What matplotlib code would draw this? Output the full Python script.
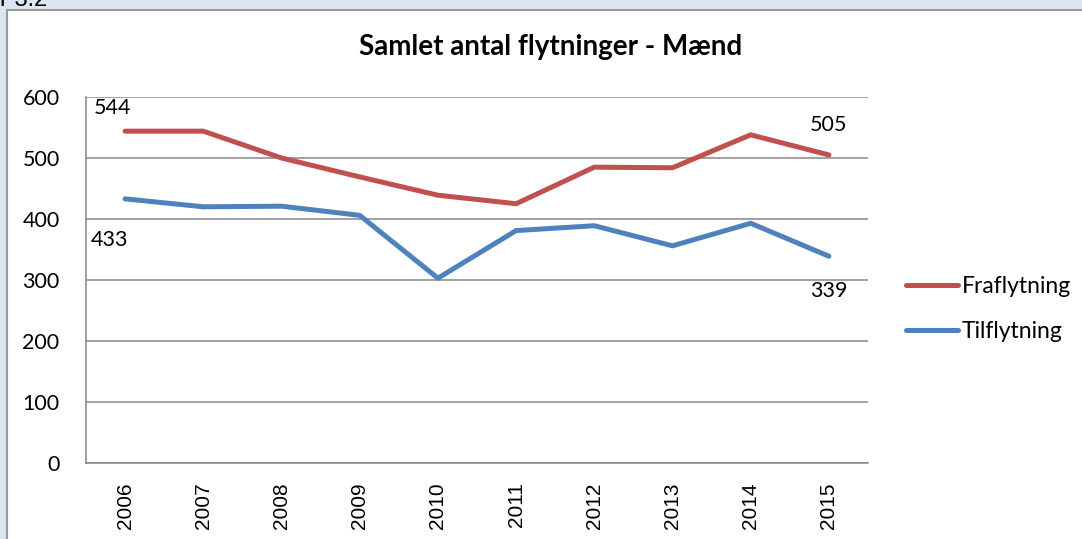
import matplotlib.pyplot as plt
from matplotlib.patches import Rectangle

years = ["2006", "2007", "2008", "2009", "2010", "2011", "2012", "2013", "2014", "2015"]
fraflytning = [544, 544, 500, 469, 439, 425, 485, 484, 538, 505]
tilflytning = [433, 420, 421, 406, 303, 381, 389, 356, 393, 339]

red = "#C0504D"
blue = "#4F81BD"
grid = "#868686"
font = "Lato"

fig = plt.figure(figsize=(10.82, 5.39), dpi=100, facecolor="#DCE6F2")
# white chart area with grey frame, cut off at right/bottom like the screenshot
fig.patches.append(Rectangle((7 / 1082, -0.05), 1.1, 1 - 10 / 539 + 0.05,
                             transform=fig.transFigure, facecolor="white",
                             edgecolor="#9A9A9A", linewidth=1.5, zorder=-5))
fig.text(0.0, 1.0, "r 3.2", fontsize=17, family="Liberation Sans",
         ha="left", va="center", color="black")

ax = fig.add_axes([86 / 1082, 76 / 539, 782 / 1082, 366 / 539])
ax.set_zorder(2)
ax.set_facecolor("none")
x = list(range(len(years)))
ax.plot(x, fraflytning, color=red, lw=3.6, solid_capstyle="round",
        solid_joinstyle="round", label="Fraflytning", zorder=3)
ax.plot(x, tilflytning, color=blue, lw=3.6, solid_capstyle="round",
        solid_joinstyle="round", label="Tilflytning", zorder=3)

ax.set_xlim(-0.5, len(years) - 0.5)
ax.set_ylim(0, 600)
ax.set_yticks(range(0, 601, 100))
ax.set_xticks(x)
ax.set_xticklabels(years, rotation=90, family="Liberation Sans", fontsize=15)
for lab in ax.get_yticklabels():
    lab.set_family(font)
    lab.set_fontsize(15.5)
ax.tick_params(axis="both", length=0)
ax.tick_params(axis="y", pad=19)
ax.tick_params(axis="x", pad=14)
ax.yaxis.grid(True, color=grid, lw=1.1)
ax.set_axisbelow(True)
for s in ["top", "right"]:
    ax.spines[s].set_visible(False)
for s in ["left", "bottom"]:
    ax.spines[s].set_color(grid)
    ax.spines[s].set_linewidth(1.1)

lab_kw = dict(textcoords="offset points", ha="center", va="center",
              fontsize=15.5, family=font)
ax.annotate(str(fraflytning[0]), (0, fraflytning[0]), xytext=(-9, 16.5), **lab_kw)
ax.annotate(str(tilflytning[0]), (0, tilflytning[0]), xytext=(-11.5, -29.5), **lab_kw)
ax.annotate(str(fraflytning[-1]), (9, fraflytning[-1]), xytext=(0, 21.5), **lab_kw)
ax.annotate(str(tilflytning[-1]), (9, tilflytning[-1]), xytext=(0, -25), **lab_kw)

fig.text(551 / 1082, 1 - 47 / 539, "Samlet antal flytninger - Mænd",
         ha="center", va="center", fontsize=20, fontweight="bold", family=font)

leg = fig.legend(loc="center left", bbox_to_anchor=(885 / 1082, 1 - 309 / 539),
                 frameon=False, prop={"family": font, "size": 16.5},
                 handlelength=2.3, handletextpad=0.15, labelspacing=1.05)
for line in leg.get_lines():
    line.set_linewidth(3.6)
    line.set_solid_capstyle("round")

fig.savefig("out.png", dpi=100, facecolor=fig.get_facecolor())
